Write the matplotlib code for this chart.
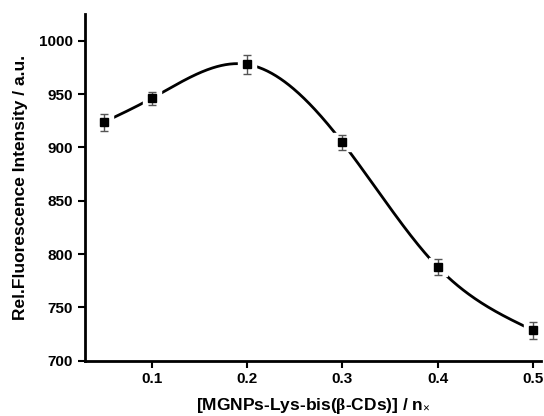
import numpy as np
import matplotlib
matplotlib.use("Agg")
import matplotlib.pyplot as plt

plt.rcParams['font.family'] = ['Liberation Sans', 'DejaVu Sans']
plt.rcParams['font.weight'] = 'bold'
plt.rcParams['mathtext.fontset'] = 'custom'
plt.rcParams['mathtext.rm'] = 'Liberation Serif'
plt.rcParams['mathtext.it'] = 'Liberation Serif:italic'

conc = [0.05, 0.1, 0.2, 0.3, 0.4, 0.5]
intensity = [923.7, 946.0, 977.9, 904.7, 787.7, 728.4]
err = [8.0, 6.0, 9.0, 7.0, 7.5, 8.0]
xticks = [0.1, 0.2, 0.3, 0.4, 0.5]
yticks = [700, 750, 800, 850, 900, 950, 1000]


def naturalSpline(x, y, xs):
    # plain natural cubic spline, no scipy here
    x = np.asarray(x, float)
    y = np.asarray(y, float)
    n = len(x)
    h = np.diff(x)
    A = np.zeros((n, n))
    b = np.zeros(n)
    A[0, 0] = 1
    A[-1, -1] = 1
    for i in range(1, n - 1):
        A[i, i - 1] = h[i - 1]
        A[i, i] = 2 * (h[i - 1] + h[i])
        A[i, i + 1] = h[i]
        b[i] = 3 * ((y[i + 1] - y[i]) / h[i] - (y[i] - y[i - 1]) / h[i - 1])
    c = np.linalg.solve(A, b)
    ys = np.zeros_like(xs)
    for j, xv in enumerate(xs):
        i = min(max(np.searchsorted(x, xv) - 1, 0), n - 2)
        dx = xv - x[i]
        bi = (y[i + 1] - y[i]) / h[i] - h[i] * (2 * c[i] + c[i + 1]) / 3
        di = (c[i + 1] - c[i]) / (3 * h[i])
        ys[j] = y[i] + bi * dx + c[i] * dx**2 + di * dx**3
    return ys


fig = plt.figure(figsize=(5.44, 4.16), dpi=100)
ax = fig.add_axes([0.156, 0.133, 0.839, 0.833])

xs = np.linspace(conc[0], conc[-1], 400)
ax.plot(xs, naturalSpline(conc, intensity, xs), color='black', lw=2, zorder=2)
# white boxes give the little gap round each point
ax.plot(conc, intensity, ls='none', marker='s', ms=13, color='white', zorder=3)
ax.errorbar(conc, intensity, yerr=err, fmt='none', ecolor='#555555',
            elinewidth=1, capsize=3, capthick=1, zorder=4)
ax.plot(conc, intensity, ls='none', marker='s', ms=5.5, color='black', zorder=5)

ax.set_xlim(0.03, 0.5085)
ax.set_ylim(700, 1025)
ax.set_xticks(xticks)
ax.set_xticklabels([str(t) for t in xticks])
ax.set_yticks(yticks)

for s in ['top', 'right']:
    ax.spines[s].set_visible(False)
for s in ['left', 'bottom']:
    ax.spines[s].set_linewidth(2)
ax.tick_params(direction='out', length=5, width=1.5, labelsize=11)

ax.set_ylabel('Rel.Fluorescence Intensity / a.u.', fontsize=12.5, fontweight='bold',
              labelpad=8)
ax.set_xlabel(r'[MGNPs-Lys-bis($\mathrm{\beta}$-CDs)] / n$_{\mathrm{\times}}$',
              fontsize=12.5, fontweight='bold', labelpad=7)

fig.savefig('out.png', dpi=100)
